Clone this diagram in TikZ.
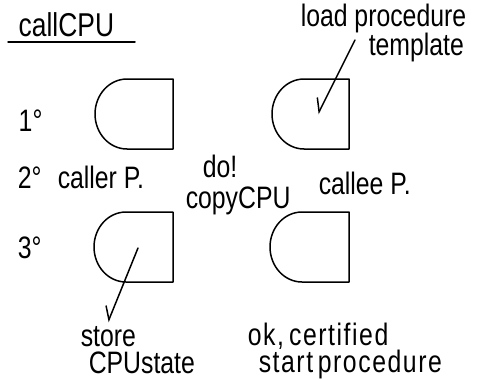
\documentclass[tikz,border=0pt]{standalone}
\usepackage{fontspec}
\setmainfont{Liberation Sans}[FakeStretch=0.8]
\usetikzlibrary{arrows.meta}
\begin{document}
\begin{tikzpicture}[x=1pt, y=-1pt, line width=1.5pt, line join=round, line cap=round,
  lbl/.style={anchor=base west, inner sep=0pt, font=\fontsize{31}{27}\selectfont},
  twoline/.style={lbl, align=left},
  wide/.style={twoline, font=\fontsize{31}{27}\selectfont\addfontfeature{LetterSpace=5}},
  ttl/.style={lbl, font=\fontsize{33}{38}\selectfont},
  dbox/.style={draw, line width=1.5pt},
  pointer/.style={draw, line width=1.5pt, -{Straight Barb[right, length=12pt, width=16pt]}}]
\useasboundingbox (0,0) rectangle (488,380);

% title
\node[ttl] (title) at (18,37) {callCPU};
\coordinate (ulA) at (8,42);
\coordinate (ulB) at (135,42);
\draw (ulA) -- (ulB);

% step numbers
\node[lbl] (n1) at (18,131) {1°};
\node[lbl] (n2) at (17,188) {2°};
\node[lbl] (n3) at (17,258) {3°};

% processor shapes: straight right side, rounded left side
\draw[dbox] (173,149) -- (173,79) -- (127,79)
  arc[start angle=90, end angle=270, x radius=32pt, y radius=35pt] -- cycle;
\draw[dbox] (349,149) -- (349,79) -- (304,79)
  arc[start angle=90, end angle=270, x radius=32pt, y radius=35pt] -- cycle;
\draw[dbox] (173,282) -- (173,212) -- (126,212)
  arc[start angle=90, end angle=270, x radius=32pt, y radius=35pt] -- cycle;
\draw[dbox] (349,282) -- (349,212) -- (302,212)
  arc[start angle=90, end angle=270, x radius=32pt, y radius=35pt] -- cycle;

% labels (base anchor sits on the last line of a two-line label)
\node[twoline] (load) at (300,56) {load procedure\\\hspace{68pt}template};
\node[lbl] (caller) at (57,188) {caller P.};
\node[lbl] (do) at (202,177) {do!};
\node[lbl] (copy) at (185,208) {copyCPU};
\node[lbl] (callee) at (318,194) {callee P.};
\node[twoline] (store) at (80,373) {store\\\hspace{8pt}CPUstate};
\node[wide] (ok) at (247,372) {ok,\,certified\\\hspace{11pt}start\hspace{0.15em}procedure};

% pointers
\coordinate (p1a) at (355,40);
\coordinate (p1b) at (318,114);
\coordinate (p2a) at (138,248);
\coordinate (p2b) at (108,322);
\draw[pointer] (p1a) -- (p1b);
\draw[pointer] (p2a) -- (p2b);
\end{tikzpicture}
\end{document}
